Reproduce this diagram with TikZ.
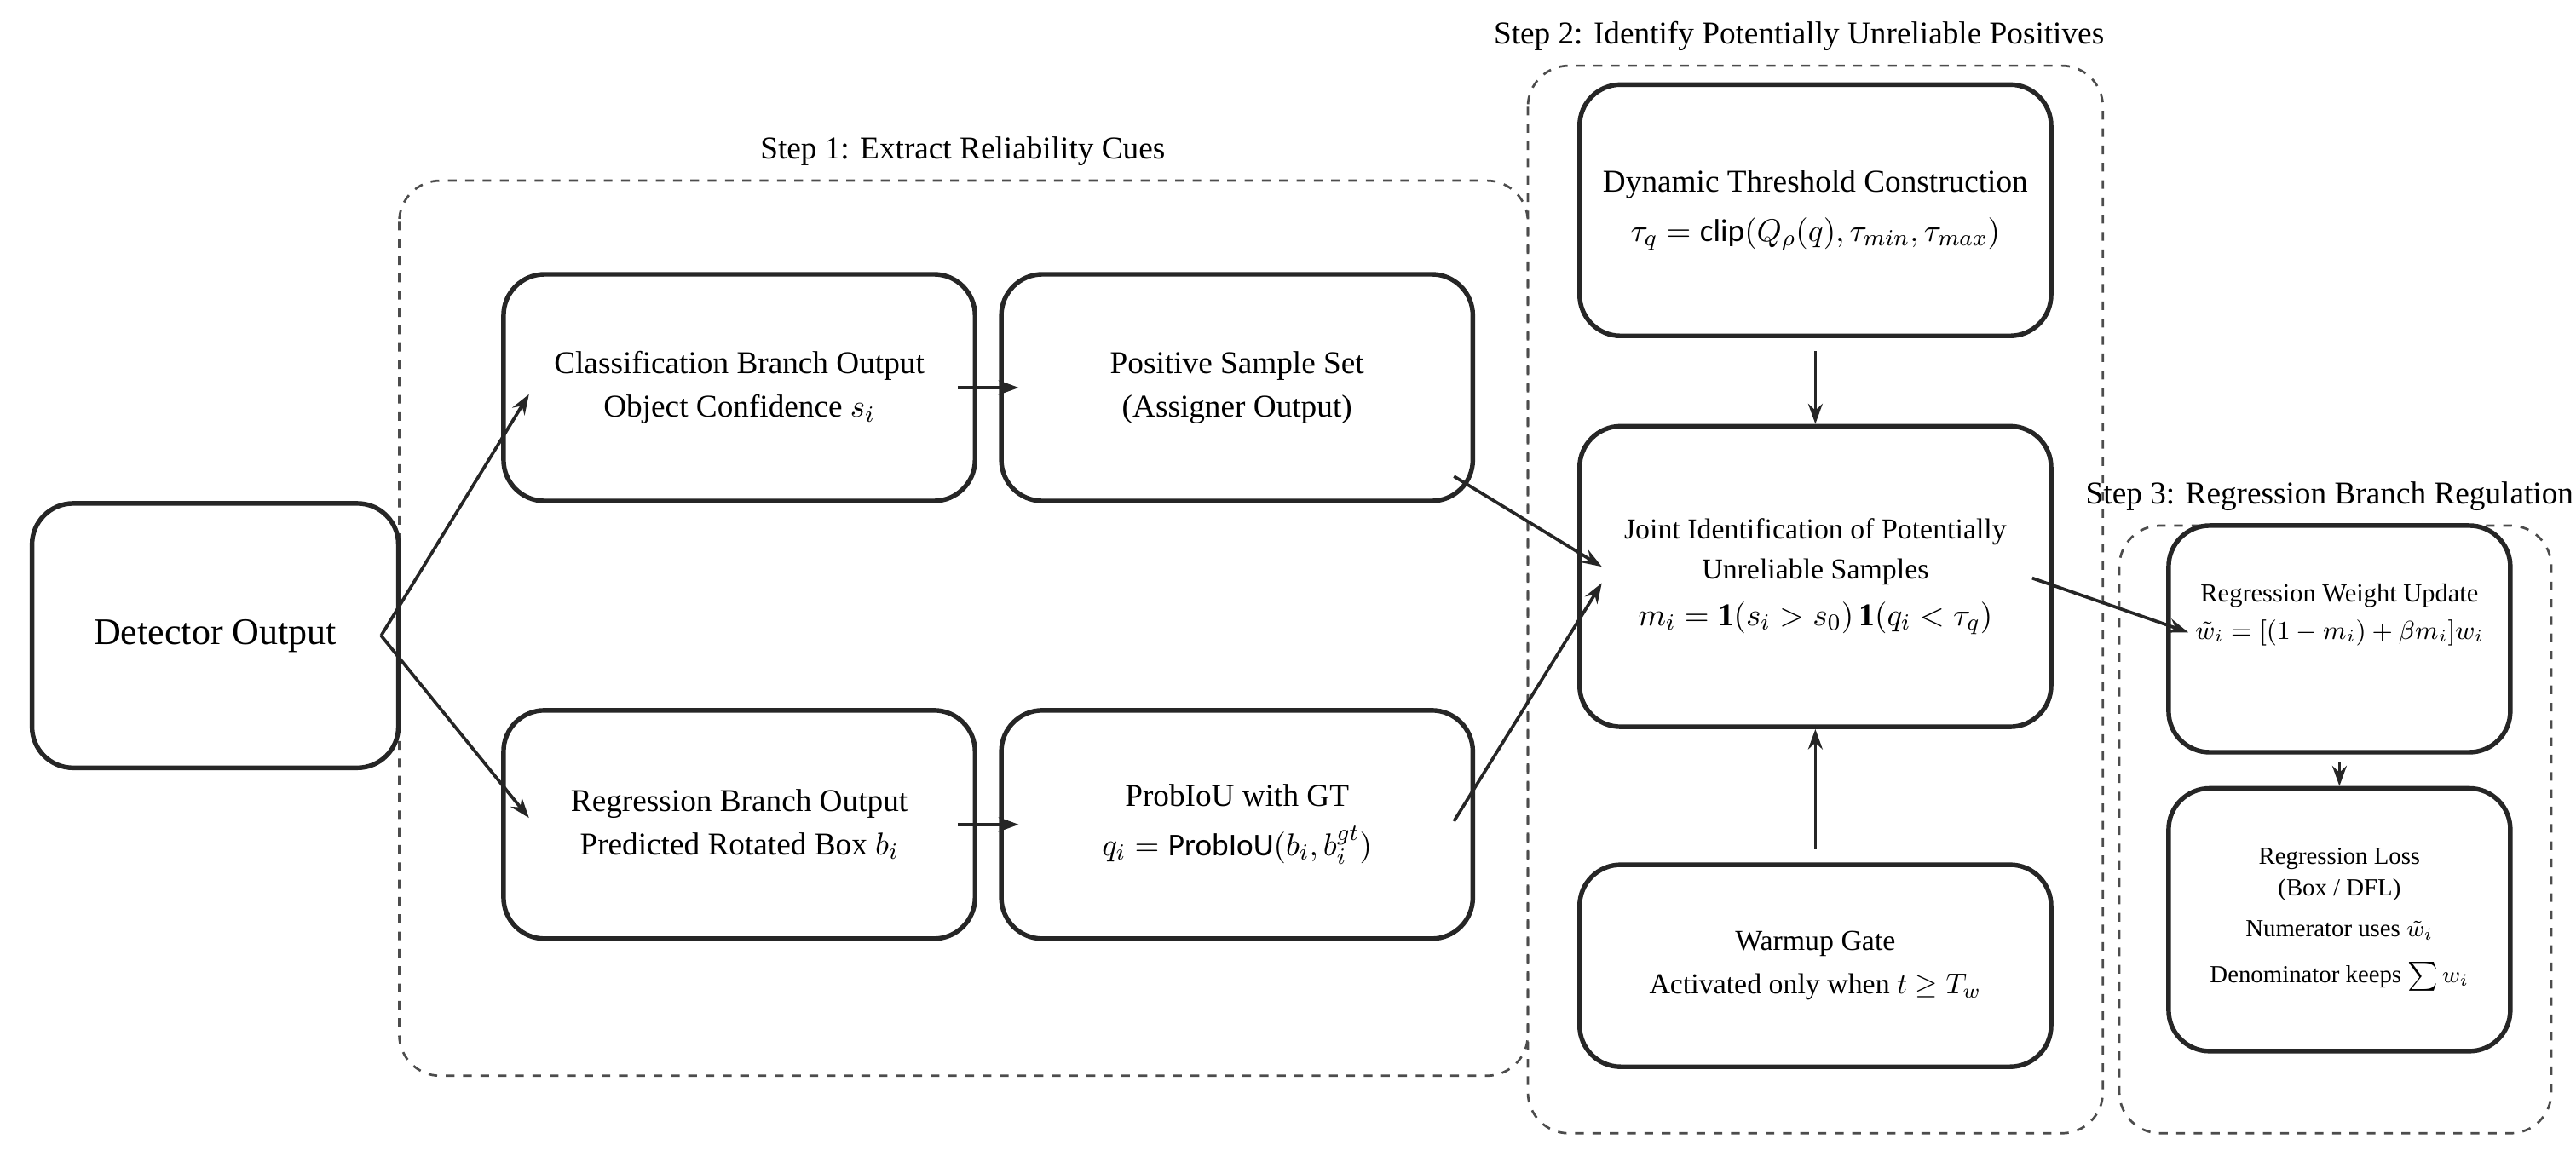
\documentclass[tikz,border=0pt]{standalone}
\usepackage{fontspec}
\setmainfont{Liberation Serif}
\newfontfamily\mathsans{Carlito}
\usetikzlibrary{arrows.meta}
\begin{document}
\begin{tikzpicture}[x=0.02cm,y=-0.02cm,
  box/.style={draw=black!85,line width=1.6pt,rounded corners=5mm,align=center,font=\fontsize{11}{15}\selectfont,inner sep=0pt},
  grp/.style={draw=black!70,line width=0.8pt,dashed,rounded corners=5mm},
  lab/.style={font=\fontsize{11}{13}\selectfont},
  arr/.style={-{Stealth[length=7pt,width=5pt]},line width=1.1pt,draw=black!85}]
\useasboundingbox (0,0) rectangle (1568,707);
% groups
\draw[grp] (243,110) rectangle (930,655);
\node[lab] (l1) at (586,92) {Step 1: Extract Reliability Cues};
\draw[grp] (930,40) rectangle (1280,690);
\node[lab] (l2) at (1095,22) {Step 2: Identify Potentially Unreliable Positives};
\draw[grp] (1290,320) rectangle (1553,690);
\node[lab] (l3) at (1418,302) {Step 3: Regression Branch Regulation};
% boxes
\node[box,minimum width=223*0.02cm,minimum height=161*0.02cm,font=\fontsize{13}{15}\selectfont] (det) at (131,387) {Detector Output};
\node[box,minimum width=287*0.02cm,minimum height=138*0.02cm] (cls) at (450,236) {Classification Branch Output\\Object Confidence $s_i$};
\node[box,minimum width=287*0.02cm,minimum height=138*0.02cm] (pos) at (753,236) {Positive Sample Set\\(Assigner Output)};
\node[box,minimum width=287*0.02cm,minimum height=139*0.02cm] (reg) at (450,502) {Regression Branch Output\\Predicted Rotated Box $b_i$};
\node[box,minimum width=287*0.02cm,minimum height=139*0.02cm] (iou) at (753,502) {ProbIoU with GT\\[2pt]$q_i=\mbox{\mathsans ProbIoU}(b_i,b_i^{gt})$};
\node[box,minimum width=287*0.02cm,minimum height=153*0.02cm] (dyn) at (1105,128) {Dynamic Threshold Construction\\[2pt]$\tau_q=\mbox{\mathsans clip}(Q_\rho(q),\tau_{min},\tau_{max})$};
\node[box,minimum width=287*0.02cm,minimum height=183*0.02cm,font=\fontsize{10}{14}\selectfont] (joint) at (1105,351) {Joint Identification of Potentially\\Unreliable Samples\\[2pt]{\fontsize{11}{13}\selectfont$m_i=\mathbf{1}(s_i>s_0)\,\mathbf{1}(q_i<\tau_q)$}};
\node[box,minimum width=287*0.02cm,minimum height=123*0.02cm,font=\fontsize{10}{15}\selectfont] (warm) at (1105,588) {Warmup Gate\\Activated only when $t\geq T_w$};
\node[box,minimum width=208*0.02cm,minimum height=138*0.02cm,font=\fontsize{9}{13}\selectfont] (rwu) at (1424,389) {Regression Weight Update\\{\fontsize{8.8}{11}\selectfont$\tilde w_i=[(1-m_i)+\beta m_i]w_i$}\\[6pt]};
\node[box,minimum width=208*0.02cm,minimum height=160*0.02cm,font=\fontsize{8.5}{11}\selectfont] (loss) at (1424,560) {Regression Loss\\(Box / DFL)\\[3pt]Numerator uses $\tilde w_i$\\[5pt]Denominator keeps $\sum w_i$};
% coordinates
\coordinate (d1) at (232,387);
\coordinate (c1) at (322,240);
\coordinate (r1) at (322,498);
\coordinate (p1) at (885,290);
\coordinate (i1) at (885,500);
\coordinate (j1) at (975,345);
\coordinate (j2) at (975,355);
\coordinate (j3) at (1237,352);
\coordinate (w1) at (1332,385);
% arrows
\draw[arr] (d1) -- (c1);
\draw[arr] (d1) -- (r1);
\draw[arr] (cls.east) ++(-12,0) -- ([xshift=12*0.02cm]pos.west);
\draw[arr] (reg.east) ++(-12,0) -- ([xshift=12*0.02cm]iou.west);
\draw[arr] (p1) -- (j1);
\draw[arr] (i1) -- (j2);
\draw[arr] ([yshift=-8*0.02cm]dyn.south) -- (joint.north);
\draw[arr] ([yshift=8*0.02cm]warm.north) -- (joint.south);
\draw[arr] (j3) -- (w1);
\draw[arr] ([yshift=-5*0.02cm]rwu.south) -- (loss.north);
\end{tikzpicture}
\end{document}
